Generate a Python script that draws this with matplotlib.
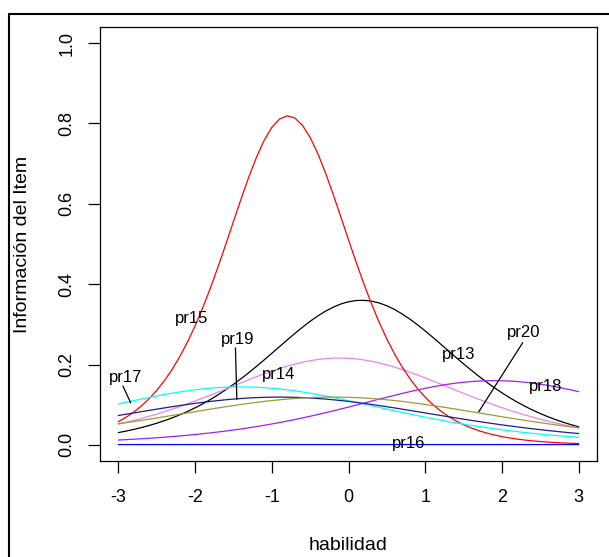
import numpy as np
import matplotlib
matplotlib.use("Agg")
import matplotlib.pyplot as plt
from matplotlib.patches import Rectangle

# Item parameters (2PL): peak = a^2/4 at theta = b
items = ["pr13", "pr14", "pr15", "pr16", "pr17", "pr18", "pr19", "pr20"]
discrimination = [1.20, 0.93, 1.81, 0.06, 0.76, 0.80, 0.69, 0.69]
difficulty = [0.17, -0.12, -0.79, 0.0, -1.40, 1.90, -0.90, -0.20]
x_ticks = [-3, -2, -1, 0, 1, 2, 3]
y_ticks = [0.0, 0.2, 0.4, 0.6, 0.8, 1.0]
y_tick_labels = ["0.0", "0.2", "0.4", "0.6", "0.8", "1.0"]

colors = {"pr13": "black", "pr14": "#EE82EE", "pr15": "red", "pr16": "blue",
          "pr17": "cyan", "pr18": "#A020F0", "pr19": "#1c1c8f", "pr20": "#9c9a35"}
# label positions (theta, info) and optional pointer segments
label_pos = {"pr15": (-2.04, 0.315), "pr19": (-1.44, 0.262), "pr14": (-0.91, 0.175),
             "pr17": (-2.91, 0.167), "pr13": (1.44, 0.225), "pr20": (2.28, 0.281),
             "pr18": (2.57, 0.146), "pr16": (0.78, 0.003)}
pointers = {"pr19": ((-1.474, 0.241), (-1.456, 0.114)),
            "pr17": ((-2.94, 0.146), (-2.84, 0.105)),
            "pr20": ((2.27, 0.254), (1.70, 0.083))}

plt.rcParams['font.family'] = ['Liberation Sans', 'DejaVu Sans']

fig = plt.figure(figsize=(6.09, 5.57), dpi=100)
ax = fig.add_axes([100/609, 1-461/557, 497/609, 434/557])

theta = np.linspace(-3, 3, 61)
for name, a, b in zip(items, discrimination, difficulty):
    p = 1.0 / (1.0 + np.exp(-a * (theta - b)))
    info = a**2 * p * (1 - p)
    ax.plot(theta, info, color=colors[name], lw=0.9)

for name, (tx, ty) in label_pos.items():
    ax.text(tx, ty, name, ha="center", va="center", fontsize=12, color="black")
for name, ((x0, y0), (x1, y1)) in pointers.items():
    ax.plot([x0, x1], [y0, y1], color="black", lw=0.9)

ax.set_xlim(-3.24, 3.24)
ax.set_ylim(-0.04, 1.04)
ax.set_xticks(x_ticks)
ax.set_xticklabels([str(t) for t in x_ticks])
ax.set_yticks(y_ticks)
ax.set_yticklabels(y_tick_labels, rotation=90, va="center")
ax.tick_params(axis="both", labelsize=13, length=8.5, width=0.9, direction="out")
ax.tick_params(axis="x", pad=12)
ax.tick_params(axis="y", pad=9)
for s in ax.spines.values():
    s.set_linewidth(0.9)
ax.set_xlabel("habilidad", fontsize=14, labelpad=22)
ax.set_ylabel("Información del Item", fontsize=14, labelpad=20)

fig.patches.append(Rectangle((9/609, -0.1), 1.2, 1 - 14/557 + 0.1, transform=fig.transFigure,
                             fill=False, edgecolor="black", lw=1.5))

fig.savefig("out.png", dpi=100)
